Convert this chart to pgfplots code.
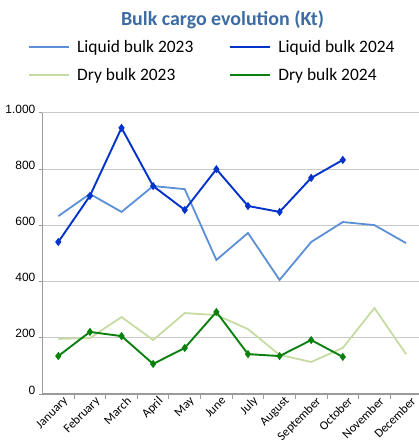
\documentclass[border=0pt]{standalone}
\usepackage{fontspec}
\setmainfont{Carlito}
\newfontfamily\arialfont{Liberation Sans}
\usepackage{pgfplots}
\pgfplotsset{compat=1.18}
\definecolor{liq23}{HTML}{5B8FD6}
\definecolor{liq24}{HTML}{0433CC}
\definecolor{dry23}{HTML}{C6DBA2}
\definecolor{dry24}{HTML}{0A800F}
\definecolor{titleblue}{HTML}{3D6BA3}
\definecolor{gridgray}{HTML}{C9C9C9}
\definecolor{axgray}{HTML}{9A9A9A}
\begin{document}
\begin{tikzpicture}
\useasboundingbox (-42.5bp,-53bp) rectangle (376.5bp,394bp);
\begin{axis}[
  at={(0,0)}, anchor=south west,
  scale only axis,
  width=376.5bp, height=281bp,
  xmin=-0.5, xmax=11.41,
  ymin=0, ymax=1000,
  clip=false,
  axis lines*=left,
  axis line style={axgray, line width=1.1bp},
  xtick={0,...,11},
  xticklabels={January,February,March,April,May,June,July,August,September,October,November,December},
  x tick label style={rotate=45, anchor=north east, font=\fontsize{12.5}{14}\selectfont, inner sep=1pt, xshift=5bp, yshift=-1bp},
  major x tick style={draw=none},
  minor xtick={0.5,1.5,...,10.5},
  minor x tick style={axgray, line width=1bp},
  minor tick length=5bp,
  tick align=outside,
  ytick={0,200,...,1000},
  yticklabels={0,200,400,600,800,1.000},
  y tick label style={font=\arialfont\fontsize{12}{14}\selectfont, inner sep=1pt, xshift=-3bp, yshift=4bp},
  major y tick style={axgray, line width=1bp},
  major tick length=3bp,
  ymajorgrids,
  grid style={gridgray, line width=1bp},
  legend columns=2,
  legend cell align=left,
  legend style={at={(0.4515,1.185)}, anchor=center, draw=none, fill=none,
    font=\fontsize{17.5}{20}\selectfont, row sep=11bp,
    /tikz/every odd column/.append style={column sep=5bp},
    /tikz/every even column/.append style={column sep=34bp}},
  legend image code/.code={\draw[#1, mark=none] (0bp,0bp) -- (40bp,0bp);},
]
\addplot[liq23, line width=1.8bp] coordinates {
  (0,633) (1,712) (2,648) (3,740) (4,729) (5,477) (6,573) (7,406) (8,541) (9,612) (10,601) (11,537)};
\addlegendentry{Liquid bulk 2023}
\addplot[liq24, line width=1.9bp, mark=diamond*, mark size=2.6bp] coordinates {
  (0,541) (1,705) (2,947) (3,740) (4,655) (5,800) (6,669) (7,648) (8,769) (9,833)};
\addlegendentry{Liquid bulk 2024}
\addplot[dry23, line width=1.8bp] coordinates {
  (0,196) (1,199) (2,274) (3,192) (4,288) (5,281) (6,231) (7,139) (8,114) (9,164) (10,306) (11,142)};
\addlegendentry{Dry bulk 2023}
\addplot[dry24, line width=1.9bp, mark=diamond*, mark size=2.6bp] coordinates {
  (0,135) (1,221) (2,206) (3,107) (4,164) (5,292) (6,142) (7,135) (8,192) (9,132)};
\addlegendentry{Dry bulk 2024}
\end{axis}
\node[font=\bfseries\fontsize{20}{22}\selectfont, text=titleblue] at (180bp,374bp) {Bulk cargo evolution (Kt)};
\end{tikzpicture}
\end{document}
